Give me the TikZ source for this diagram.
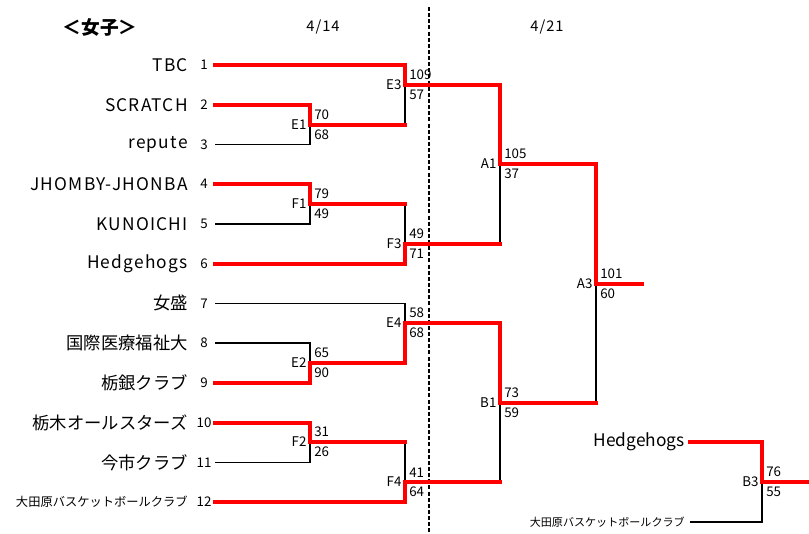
\documentclass[tikz,border=0pt]{standalone}
\usepackage{fontspec}
\setmainfont{Noto Sans CJK JP}
\newfontfamily\widefont[LetterSpace=7]{Noto Sans CJK JP}
\usetikzlibrary{positioning}
\tikzset{
    team/.style = {anchor=east, inner sep=0pt, font=\fontsize{13}{15}\selectfont},
    latin-team/.style = {team, font=\fontsize{13}{15}\widefont},
    small-team/.style = {team, font=\fontsize{9.2}{11}\selectfont},
    seed/.style = {inner sep=0pt, font=\fontsize{10}{12}\selectfont},
    score/.style = {inner sep=0pt, font=\fontsize{10}{12}\selectfont},
    game/.style = {inner sep=0pt, font=\fontsize{10}{12}\selectfont},
    day/.style = {font=\fontsize{11}{13}\widefont},
    win/.style = {draw=red, line width=3pt, line cap=rect},
    lose/.style = {draw=black, line width=1.2pt},
}

\begin{document}
\begin{tikzpicture}[x=0.75pt, y=-0.75pt]
\useasboundingbox (0,0) rectangle (809,534);

% headings
\node[font=\fontsize{14}{16}\selectfont\bfseries] (title) at (100,27) {＜女子＞};
\node[day] (day1) at (323,27) {4/14};
\node[day] (day2) at (547,27) {4/21};

% dividing line between the two days
\coordinate (dtop) at (429,7);
\coordinate (dbot) at (429,534);
\draw[line width=1.2pt, dash pattern=on 3pt off 1.6pt] (dtop) -- (dbot);

% teams
\foreach \name [count=\i] in {TBC, SCRATCH, repute, JHOMBY-JHONBA, KUNOICHI, Hedgehogs} {
    \node[latin-team] (name\i) at (188, {65+39.73*(\i-1)}) {\name};
}
\foreach \name [count=\i from 7] in {女盛, 国際医療福祉大, 栃銀クラブ, 栃木オールスターズ, 今市クラブ} {
    \node[team] (name\i) at (188, {65+39.73*(\i-1)}) {\name};
}
\node[small-team] (name12) at (188,502) {大田原バスケットボールクラブ};
\foreach \i in {1,...,12} {
    \node[seed] (seed\i) at (204, {65+39.73*(\i-1)}) {\i};
    \coordinate (t\i) at (215, {65+39.73*(\i-1)});
}

% games
\coordinate (E1) at (310,125);
\coordinate (F1) at (310,204);
\coordinate (E2) at (310,363);
\coordinate (F2) at (310,442);
\coordinate (E3) at (405,85);
\coordinate (F3) at (405,244);
\coordinate (E4) at (405,323);
\coordinate (F4) at (405,482);
\coordinate (A1) at (500,164);
\coordinate (B1) at (500,403);
\coordinate (A3) at (596,284);
\coordinate (A3end) at (642,284);

% 3rd place
\node[team] (hh) at (685,442) {Hedgehogs};
\node[small-team, font=\fontsize{8.3}{10}\selectfont] (oo) at (685,522) {大田原バスケットボールクラブ};
\coordinate (h3) at (690,442);
\coordinate (o3) at (690,522);
\coordinate (B3) at (762,482);
\coordinate (B3end) at (809,482);

% losing sides
\draw[lose] (t3) -| (E1);
\draw[lose] (t5) -| (F1);
\draw[lose] (t7) -| (E4);
\draw[lose] (t8) -| (E2);
\draw[lose] (t11) -| (F2);
\draw[lose] (E1 -| E3) -- (E3);
\draw[lose] (F1 -| F3) -- (F3);
\draw[lose] (F2 -| F4) -- (F4);
\draw[lose] (F3 -| A1) -- (A1);
\draw[lose] (F4 -| B1) -- (B1);
\draw[lose] (B1 -| A3) -- (A3);
\draw[lose] (o3) -| (B3);

% winning sides
\draw[win] (t1) -| (E3);
\draw[win] (t2) -| (E1);
\draw[win] (t4) -| (F1);
\draw[win] (t6) -| (F3);
\draw[win] (t9) -| (E2);
\draw[win] (t10) -| (F2);
\draw[win] (t12) -| (F4);
\draw[win] (E1) -- (E1 -| E3);
\draw[win] (F1) -- (F1 -| F3);
\draw[win] (F2) -- (F2 -| F4);
\draw[win] (E2) -| (E4);
\draw[win] (E3) -| (A1);
\draw[win] (F3) -- (F3 -| A1);
\draw[win] (E4) -| (B1);
\draw[win] (F4) -- (F4 -| B1);
\draw[win] (A1) -| (A3);
\draw[win] (B1) -- (B1 -| A3);
\draw[win] (A3) -- (A3end);
\draw[win] (h3) -| (B3);
\draw[win] (B3) -- (B3end);

% game labels and scores
\foreach \g/\a/\b in {E1/70/68, F1/79/49, E2/65/90, F2/31/26, E3/109/57, F3/49/71,
        E4/58/68, F4/41/64, A1/105/37, B1/73/59, A3/101/60, B3/76/55} {
    \node[game, left=2.5pt of \g] (\g-lab) {\g};
    \node[score, above right=3.5pt and 3pt of \g] (\g-top) {\a};
    \node[score, below right=3.5pt and 3pt of \g] (\g-bot) {\b};
}
\end{tikzpicture}
\end{document}
